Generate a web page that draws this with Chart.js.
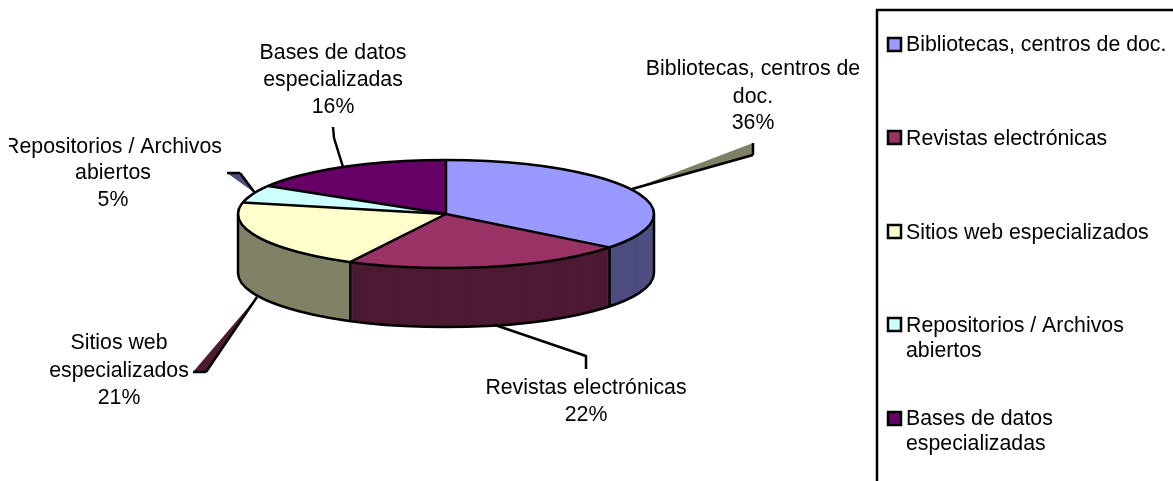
<!DOCTYPE html>
<html><head><meta charset="utf-8">
<style>html,body{margin:0;padding:0;background:#fff;overflow:hidden}canvas{display:block}</style>
<script src="https://cdn.jsdelivr.net/npm/chart.js@4/dist/chart.umd.js"></script>
</head><body>
<canvas id="c" width="1173" height="481"></canvas>
<script>
const categories = ["Bibliotecas, centros de doc.","Revistas electrónicas","Sitios web especializados","Repositorios / Archivos abiertos","Bases de datos especializadas"];
const shares = [35.6,22.0,20.8,5.3,16.3];
const topColors = ["#9999FF","#993366","#FFFFCC","#CCFFFF","#660066"];
const wallColors = ["#4D4D80","#4D1A33","#808066","#668080","#330033"];
const calloutLines = [["Bibliotecas, centros de","doc."],["Revistas electrónicas"],["Sitios web","especializados"],["Repositorios / Archivos","abiertos"],["Bases de datos","especializadas"]];
const legendLines = [["Bibliotecas, centros de doc."],["Revistas electrónicas"],["Sitios web especializados"],["Repositorios / Archivos","abiertos"],["Bases de datos","especializadas"]];

const FONT = '21.3px "Liberation Sans", Arial, sans-serif';
const RY = 54, DEPTH = 59;
const calloutPos = [
  {x:753,ys:[69,97,123]},{x:586,ys:[388,415]},{x:119,ys:[343,371,398]},
  {x:113,ys:[147,173,200],clip:9},{x:333,ys:[53,80,107]}];
const legendPos = [
  {sy:38,ys:[45]},{sy:131,ys:[139]},{sy:225,ys:[233]},{sy:318,ys:[326,351]},{sy:412,ys:[419,444]}];

const pie3d = {
  id:'pie3d',
  beforeDatasetsDraw(chart){
    const ctx = chart.ctx, arcs = chart.getDatasetMeta(0).data;
    const cx = arcs[0].x, cy = arcs[0].y, R = arcs[0].outerRadius, k = RY/R;
    const squash = (dy)=>{ctx.translate(cx,cy+dy);ctx.scale(1,k);ctx.translate(-cx,-cy);};
    const paint = (dy,colors)=>{
      arcs.forEach((a,i)=>{
        const saved = a.options;
        a.options = Object.assign({},saved,{backgroundColor:colors[i],borderWidth:0});
        ctx.save();squash(dy);a.draw(ctx);ctx.restore();
        a.options = saved;
      });
    };
    for(let d=DEPTH;d>=1;d--) paint(d,wallColors);
    paint(0,topColors);

    ctx.save();
    ctx.strokeStyle='#000';ctx.lineWidth=2.5;ctx.lineJoin='round';
    const ell=(dy,s,e)=>{ctx.save();squash(dy);ctx.arc(cx,cy,R,s,e);ctx.restore();};
    ctx.beginPath();
    ctx.moveTo(cx+R,cy);ctx.lineTo(cx+R,cy+DEPTH);
    ell(DEPTH,0,Math.PI);
    ctx.lineTo(cx-R,cy);ctx.stroke();
    ctx.beginPath();ell(0,0,Math.PI*2);ctx.closePath();ctx.stroke();
    arcs.forEach(a=>{
      const px=cx+R*Math.cos(a.startAngle), py=cy+RY*Math.sin(a.startAngle);
      ctx.beginPath();ctx.moveTo(cx,cy);ctx.lineTo(px,py);ctx.stroke();
      if(Math.sin(a.startAngle)>0){ctx.beginPath();ctx.moveTo(px,py);ctx.lineTo(px,py+DEPTH);ctx.stroke();}
    });
    const poly=(pts,fill,edges)=>{
      ctx.beginPath();pts.forEach((p,i)=>i?ctx.lineTo(p[0],p[1]):ctx.moveTo(p[0],p[1]));ctx.closePath();
      ctx.fillStyle=fill;ctx.fill();
      edges.forEach(e=>{ctx.beginPath();ctx.moveTo(pts[e[0]][0],pts[e[0]][1]);ctx.lineTo(pts[e[1]][0],pts[e[1]][1]);ctx.stroke();});
    };
    const line=(pts)=>{ctx.beginPath();pts.forEach((p,i)=>i?ctx.lineTo(p[0],p[1]):ctx.moveTo(p[0],p[1]));ctx.stroke();};
    poly([[753,143],[753,155],[632,189]],wallColors[2],[[0,1],[1,2]]);
    line([[586,369],[586,356],[495,325]]);
    poly([[193,372],[206,372],[257,297]],wallColors[1],[[0,1],[1,2]]);
    poly([[227,173],[240,173],[255,193]],wallColors[0],[[0,1],[1,2]]);
    line([[333,127],[334,138],[343,167]]);
    ctx.restore();
    return false;
  },
  afterDraw(chart){
    const ctx = chart.ctx;
    ctx.save();
    ctx.font=FONT;ctx.fillStyle='#000';ctx.textBaseline='middle';
    ctx.textAlign='center';
    calloutPos.forEach((p,i)=>{
      const lines = calloutLines[i].concat(Math.round(shares[i])+'%');
      ctx.save();
      if(p.clip){ctx.beginPath();ctx.rect(p.clip,0,1173,481);ctx.clip();}
      lines.forEach((t,j)=>ctx.fillText(t,p.x,p.ys[j]));
      ctx.restore();
    });
    ctx.strokeStyle='#000';ctx.lineWidth=2.5;
    ctx.strokeRect(877,10,600,600);
    ctx.textAlign='left';
    legendPos.forEach((p,i)=>{
      ctx.fillStyle=topColors[i];ctx.fillRect(888,p.sy,13,13);
      ctx.strokeRect(888,p.sy,13,13);
      ctx.fillStyle='#000';
      legendLines[i].forEach((t,j)=>ctx.fillText(t,906,p.ys[j]));
    });
    ctx.restore();
  }
};

new Chart(document.getElementById('c'),{
  type:'pie',
  data:{labels:categories,datasets:[{data:shares,backgroundColor:topColors,borderWidth:0}]},
  options:{
    responsive:false,animation:false,
    layout:{padding:{left:238,right:519,top:6,bottom:59}},
    plugins:{legend:{display:false},tooltip:{enabled:false}}
  },
  plugins:[pie3d]
});
</script>
</body></html>
